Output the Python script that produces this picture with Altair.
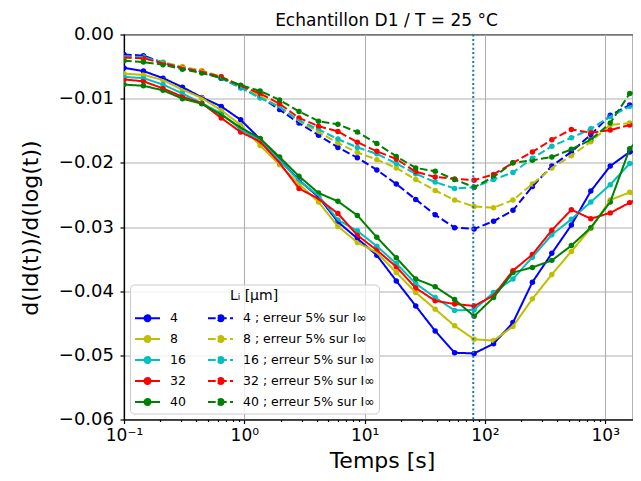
import altair as alt
import pandas as pd

# Time points (s)
TIMES = [0.1, 0.145, 0.211, 0.306, 0.443, 0.643, 0.933, 1.354, 1.965, 2.85,
         4.14, 6.0, 8.71, 12.64, 18.34, 26.6, 38.6, 56.0, 81.3, 118,
         171, 248, 360, 523, 759, 1101, 1598, 2319]

# Solid curves, L_i in µm
S4 = [-0.0052, -0.0057, -0.0068, -0.0082, -0.0098, -0.0112, -0.0133, -0.0163, -0.0195, -0.0227,
      -0.0253, -0.0292, -0.0318, -0.0344, -0.0384, -0.0423, -0.0462, -0.0496, -0.0497, -0.0482,
      -0.0449, -0.0386, -0.0341, -0.0297, -0.0244, -0.0205, -0.0183, -0.0180]
S8 = [-0.0061, -0.0063, -0.0071, -0.0086, -0.0099, -0.0118, -0.0141, -0.0173, -0.0203, -0.0233,
      -0.0261, -0.0299, -0.0324, -0.0340, -0.0371, -0.0402, -0.0428, -0.0454, -0.0475, -0.0477,
      -0.0455, -0.0412, -0.0374, -0.0338, -0.0302, -0.0258, -0.0246, -0.0272]
S16 = [-0.0066, -0.0068, -0.0078, -0.0092, -0.0107, -0.0123, -0.0148, -0.0165, -0.0196, -0.0228,
       -0.0251, -0.0289, -0.0306, -0.0330, -0.0357, -0.0388, -0.0410, -0.0430, -0.0429, -0.0402,
       -0.0381, -0.0347, -0.0312, -0.0288, -0.0261, -0.0234, -0.0201, -0.0199]
S32 = [-0.0070, -0.0073, -0.0084, -0.0097, -0.0107, -0.0130, -0.0152, -0.0167, -0.0200, -0.0240,
       -0.0256, -0.0279, -0.0313, -0.0336, -0.0362, -0.0395, -0.0415, -0.0420, -0.0423, -0.0407,
       -0.0368, -0.0343, -0.0305, -0.0273, -0.0287, -0.0278, -0.0262, -0.0247]
S40 = [-0.0078, -0.0080, -0.0087, -0.0100, -0.0108, -0.0125, -0.0145, -0.0162, -0.0191, -0.0221,
       -0.0247, -0.0260, -0.0282, -0.0316, -0.0348, -0.0381, -0.0393, -0.0413, -0.0439, -0.0410,
       -0.0371, -0.0363, -0.0352, -0.0329, -0.0301, -0.0261, -0.0178, -0.0145]

# Dashed curves (5% error on I_inf)
D4 = [-0.0031, -0.0033, -0.0044, -0.0052, -0.0058, -0.0068, -0.0083, -0.0097, -0.0117, -0.0138,
      -0.0157, -0.0176, -0.0192, -0.0211, -0.0233, -0.0257, -0.0281, -0.0301, -0.0303, -0.0291,
      -0.0274, -0.0237, -0.0205, -0.0183, -0.0156, -0.0126, -0.0110, -0.0107]
D8 = [-0.0036, -0.0037, -0.0043, -0.0050, -0.0056, -0.0066, -0.0080, -0.0096, -0.0113, -0.0135,
      -0.0152, -0.0169, -0.0184, -0.0195, -0.0208, -0.0226, -0.0243, -0.0258, -0.0268, -0.0270,
      -0.0258, -0.0233, -0.0208, -0.0189, -0.0167, -0.0141, -0.0138, -0.0153]
D16 = [-0.0034, -0.0035, -0.0044, -0.0052, -0.0058, -0.0068, -0.0083, -0.0099, -0.0113, -0.0134,
       -0.0148, -0.0163, -0.0176, -0.0186, -0.0201, -0.0217, -0.0230, -0.0240, -0.0238, -0.0226,
       -0.0215, -0.0193, -0.0174, -0.0161, -0.0147, -0.0128, -0.0112, -0.0109]
D32 = [-0.0036, -0.0037, -0.0045, -0.0052, -0.0058, -0.0066, -0.0080, -0.0092, -0.0108, -0.0130,
       -0.0143, -0.0151, -0.0168, -0.0182, -0.0194, -0.0214, -0.0222, -0.0225, -0.0227, -0.0218,
       -0.0200, -0.0183, -0.0164, -0.0148, -0.0153, -0.0149, -0.0141, -0.0132]
D40 = [-0.0041, -0.0043, -0.0047, -0.0054, -0.0060, -0.0068, -0.0079, -0.0088, -0.0102, -0.0120,
       -0.0135, -0.0140, -0.0152, -0.0170, -0.0190, -0.0208, -0.0213, -0.0226, -0.0238, -0.0222,
       -0.0200, -0.0196, -0.0191, -0.0179, -0.0164, -0.0138, -0.0092, -0.0082]

SOLID_LABELS = ["4", "8", "16", "32", "40"]
DASH_LABELS = [f"{s} ; erreur 5% sur I∞" for s in SOLID_LABELS]
SOLID_SERIES = [S4, S8, S16, S32, S40]
DASH_SERIES = [D4, D8, D16, D32, D40]
COLORS = ["#0000ff", "#bfbf00", "#00bfbf", "#ff0000", "#008000"]

T_MIN = 80  # vertical dotted marker

X_MAJOR = [0.1, 1, 10, 100, 1000]
X_MAJOR_LABELS = ["10⁻¹", "10⁰", "10¹", "10²", "10³"]
X_MINOR = [0.2, 0.3, 0.4, 0.5, 0.6, 0.7, 0.8, 0.9,
           2, 3, 4, 5, 6, 7, 8, 9,
           20, 30, 40, 50, 60, 70, 80, 90,
           200, 300, 400, 500, 600, 700, 800, 900]
Y_TICKS = [0.0, -0.01, -0.02, -0.03, -0.04, -0.05, -0.06]

rows = []
for lab, vals in zip(SOLID_LABELS, SOLID_SERIES):
    for t, v in zip(TIMES, vals):
        rows.append({"t": t, "v": v, "serie": lab})
for lab, vals in zip(DASH_LABELS, DASH_SERIES):
    for t, v in zip(TIMES, vals):
        rows.append({"t": t, "v": v, "serie": lab})
df = pd.DataFrame(rows)

order = SOLID_LABELS + DASH_LABELS
colors = COLORS + COLORS
dashes = [[1, 0]] * 5 + [[7.7, 3.3]] * 5

label_expr = "".join(f"datum.value == {v} ? '{s}' : " for v, s in zip(X_MAJOR, X_MAJOR_LABELS)) + "''"
is_major = "indexof([0.1, 1, 10, 100, 1000], datum.value) >= 0"

x_enc = alt.X(
    "t:Q",
    scale=alt.Scale(type="log", domain=[0.1, 1702], nice=False),
    axis=alt.Axis(
        values=X_MAJOR + X_MINOR,
        labelExpr=label_expr,
        title="Temps [s]",
        labelFontSize=17,
        titleFontSize=22,
        titleFontWeight="normal",
        labelPadding=4,
        titleX=258,
        titleY=48,
        titleBaseline="alphabetic",
        titleAlign="center",
        tickSize={"condition": {"test": is_major, "value": 4}, "value": 2},
        gridOpacity={"condition": {"test": is_major, "value": 1}, "value": 0},
        labelFlush=False,
    ),
)
y_enc = alt.Y(
    "v:Q",
    scale=alt.Scale(domain=[-0.06, 0], nice=False, zero=False),
    axis=alt.Axis(
        values=Y_TICKS,
        format=".2f",
        title="d(Id(t))/d(log(t))",
        labelFontSize=18,
        titleFontSize=22,
        titleFontWeight="normal",
        labelPadding=6.5,
        tickSize=4,
        titleX=-94,
        titleY=193,
        titleAngle=270,
        titleBaseline="middle",
        titleAlign="center",
        labelFlush=False,
    ),
)

SYMBOL = "M-1,0L1,0M0.24,0A0.24,0.24,0,1,1,-0.24,0A0.24,0.24,0,1,1,0.24,0Z"

legend = alt.Legend(
    title="Lᵢ [µm]",
    orient="bottom-left",
    offset=6,
    columns=2,
    symbolType=SYMBOL,
    symbolSize=625,
    symbolStrokeWidth=2,
    labelFontSize=12.5,
    titleFontSize=14,
    titleFontWeight="normal",
    titleAnchor="middle",
    titlePadding=2,
    fillColor="rgba(255,255,255,0.8)",
    strokeColor="#cccccc",
    cornerRadius=4,
    padding=4,
    rowPadding=-4,
    columnPadding=18,
    labelOffset=9,
    labelLimit=0,
    symbolOpacity=1,
)

color_enc = alt.Color("serie:N", scale=alt.Scale(domain=order, range=colors), legend=legend)
dash_enc = alt.StrokeDash("serie:N", scale=alt.Scale(domain=order, range=dashes), legend=legend)

base = alt.Chart(df)
points = base.mark_point(filled=True, size=30, opacity=1, clip=True).encode(
    x=x_enc, y=y_enc, color=color_enc
)
lines = base.mark_line(strokeWidth=2, clip=True).encode(
    x=x_enc, y=y_enc, color=color_enc, strokeDash=dash_enc
)
vline = alt.Chart(pd.DataFrame({"t": [T_MIN]})).mark_rule(
    color="#1f77b4", strokeWidth=2, strokeDash=[2, 2.4]
).encode(x="t:Q")

chart = alt.layer(points, lines, vline).properties(
    width=509,
    height=385,
    title=alt.TitleParams(
        "Echantillon D1 / T = 25 °C", fontSize=17, fontWeight="normal",
        anchor="middle", frame="group", offset=8, dx=8, dy=12, color="black"
    ),
    padding={"left": 116, "top": 26.5, "right": 0, "bottom": 53.5},
    autosize=alt.AutoSizeParams(type="none"),
).configure(
    font="DejaVu Sans",
).configure_view(
    stroke="black", strokeWidth=1.2
).configure_axis(
    domainColor="black", tickColor="black", labelColor="black", titleColor="black",
    gridColor="#b0b0b0", gridWidth=1.1, domainWidth=1.2, tickWidth=1.2,
)

chart.save("out.html", embed_options={"renderer": "svg", "actions": False})
